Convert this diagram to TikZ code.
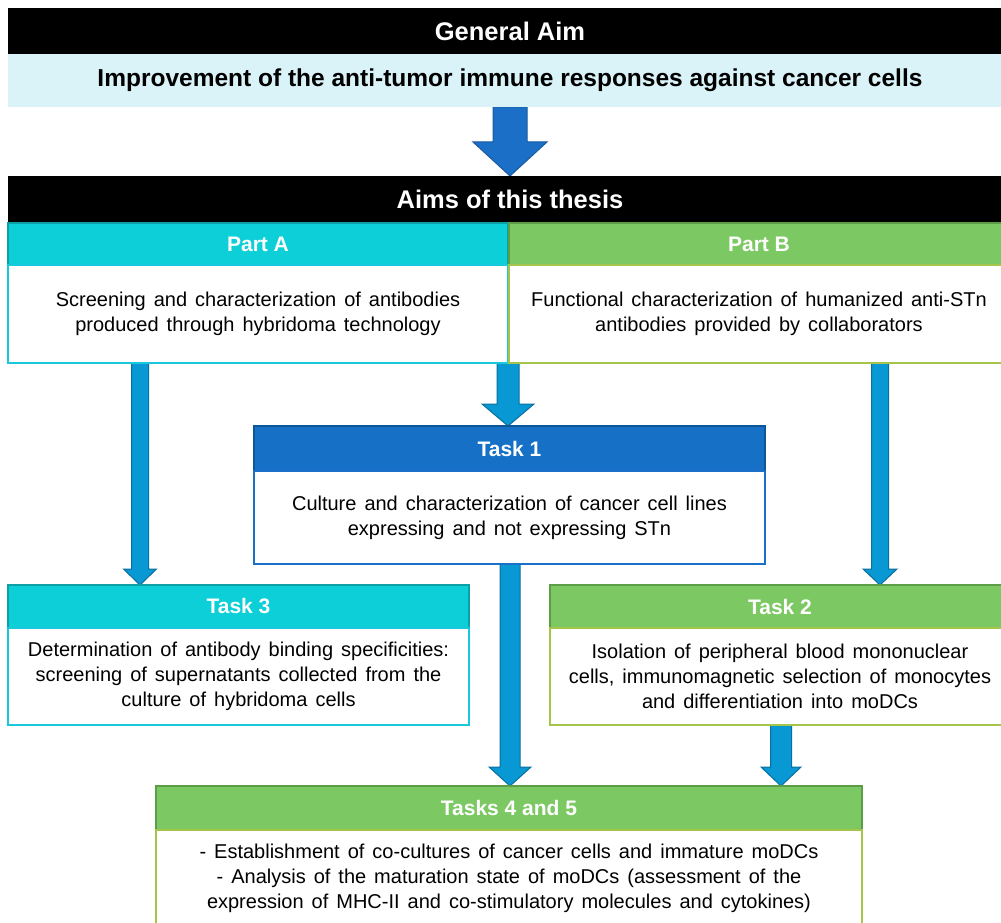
\documentclass[tikz,border=0pt]{standalone}
\usepackage{fontspec}
\setmainfont{Liberation Sans}
\usetikzlibrary{calc}
\definecolor{lightaim}{HTML}{DAF3F8}
\definecolor{cyanfill}{HTML}{0CCFD8}
\definecolor{cyanedge}{HTML}{0E9FA6}
\definecolor{cyanbody}{HTML}{1AC8DC}
\definecolor{greenfill}{HTML}{7CC963}
\definecolor{greenedge}{HTML}{5B9E47}
\definecolor{greenbody}{HTML}{A5C54A}
\definecolor{bluefill}{HTML}{1570C6}
\definecolor{blueedge}{HTML}{0E5796}
\definecolor{bluebody}{HTML}{1A70C8}
\definecolor{arrfill}{HTML}{0898D4}
\definecolor{arredge}{HTML}{0A6E9E}
\definecolor{toparrfill}{HTML}{1C6FC6}
\definecolor{toparredge}{HTML}{1A5A9E}
\pgfdeclarelayer{bg}
\pgfsetlayers{bg,main}
\newcommand\fatarrow[6]{%
  \filldraw[#1] let \p1=#2, \p2=#3 in
   (\x1-#4pt,\y1) -- (\x1-#4pt,\y2+#6pt) -- (\x1-#5pt,\y2+#6pt) -- (\x1,\y2)
   -- (\x1+#5pt,\y2+#6pt) -- (\x1+#4pt,\y2+#6pt) -- (\x1+#4pt,\y1) -- cycle;}
\newcommand\bodyfont{\fontsize{20}{25}\selectfont\spaceskip=0.4em plus 0.1em minus 0.05em\relax}
\tikzset{
  box/.style={anchor=north west, inner sep=0pt, outer sep=0pt, align=center},
  bigbar/.style={box, fill=black, text=white, minimum width=1004pt, minimum height=46pt,
     font=\fontsize{25.5}{28}\selectfont\bfseries},
  hdr/.style={box, line width=2.5pt, text=white, minimum height=42pt,
     font=\fontsize{21}{25}\selectfont\bfseries},
  body/.style={box, line width=2.5pt, fill=white, font=\bodyfont},
  cyanhdr/.style={hdr, fill=cyanfill, draw=cyanedge},
  greenhdr/.style={hdr, fill=greenfill, draw=greenedge},
  bluehdr/.style={hdr, fill=bluefill, draw=blueedge},
  arrowstyle/.style={fill=arrfill, draw=arredge, line width=1pt, line join=miter},
  toparrow/.style={fill=toparrfill, draw=toparredge, line width=1pt, line join=miter},
}
\begin{document}
\begin{tikzpicture}[x=1pt,y=-1pt]
\useasboundingbox (0,0) rectangle (1001,923);
\clip (0,0) rectangle (1001,923);

% general aim
\node[bigbar] (genaim) at (8,8) {General Aim};
\node[box, fill=lightaim, minimum width=1004pt, minimum height=53pt,
      font=\fontsize{24.5}{28}\selectfont\bfseries] (improve) at (8,54)
      {Improvement of the anti-tumor immune responses against cancer cells};
\node[bigbar] (aims) at (8,176) {Aims of this thesis};

% Part A / Part B
\node[cyanhdr, minimum width=500pt] (partAh) at (8,223) {Part A};
\node[body, draw=cyanbody, minimum width=500pt, minimum height=98pt] (partAb) at (8,265)
  {Screening and characterization of antibodies\\produced through hybridoma technology};
\node[greenhdr, minimum width=500pt] (partBh) at (509,223) {Part B};
\node[body, draw=greenbody, minimum width=500pt, minimum height=98pt] (partBb) at (509,265)
  {Functional characterization of humanized anti-STn\\antibodies provided by collaborators};

% Task 1
\node[bluehdr, minimum width=511pt, minimum height=45pt] (t1h) at (254,426) {Task 1};
\node[body, draw=bluebody, minimum width=511pt, minimum height=93pt] (t1b) at (254,471)
  {Culture and characterization of cancer cell lines\\expressing and not expressing STn};

% Task 3
\node[cyanhdr, minimum width=461pt, minimum height=43pt] (t3h) at (8,585) {Task 3};
\node[body, draw=cyanbody, minimum width=461pt, minimum height=97pt] (t3b) at (8,628)
  {Determination of antibody binding specificities:\\screening of supernatants collected from the\\culture of hybridoma cells};

% Task 2
\node[greenhdr, minimum width=460pt, minimum height=43pt] (t2h) at (550,585) {Task 2};
\node[body, draw=greenbody, minimum width=460pt, minimum height=97pt] (t2b) at (550,628)
  {Isolation of peripheral blood mononuclear\\cells, immunomagnetic selection of monocytes\\and differentiation into moDCs};

% Tasks 4 and 5
\node[greenhdr, minimum width=706pt, minimum height=44pt] (t45h) at (156,786) {Tasks 4 and 5};
\node[body, draw=greenbody, minimum width=706pt, minimum height=96pt] (t45b) at (156,830)
  {- Establishment of co-cultures of cancer cells and immature moDCs\\- Analysis of the maturation state of moDCs (assessment of the\\expression of MHC-II and co-stimulatory molecules and cytokines)};

% arrow x positions
\coordinate (xtop) at (510,0);
\coordinate (xleft) at (140,0);
\coordinate (xright) at (880,0);
\coordinate (xmid) at (510,0);
\coordinate (xt2) at (781,0);

\begin{pgfonlayer}{bg}
\fatarrow{toparrow}{(improve.south -| xtop)}{(aims.north -| xtop)}{17}{37}{34}
\fatarrow{arrowstyle}{(partAb.south -| xleft)}{(t3h.north -| xleft)}{8.5}{16.5}{16}
\fatarrow{arrowstyle}{(partAb.south east)}{(t1h.north -| partAb.south east)}{11}{26}{22}
\fatarrow{arrowstyle}{(partBb.south -| xright)}{(t2h.north -| xright)}{8.5}{17}{16}
\fatarrow{arrowstyle}{(t1b.south -| xmid)}{(t45h.north -| xmid)}{10}{21}{19}
\fatarrow{arrowstyle}{(t2b.south -| xt2)}{(t45h.north -| xt2)}{10.5}{20}{19}
\end{pgfonlayer}
\end{tikzpicture}
\end{document}
